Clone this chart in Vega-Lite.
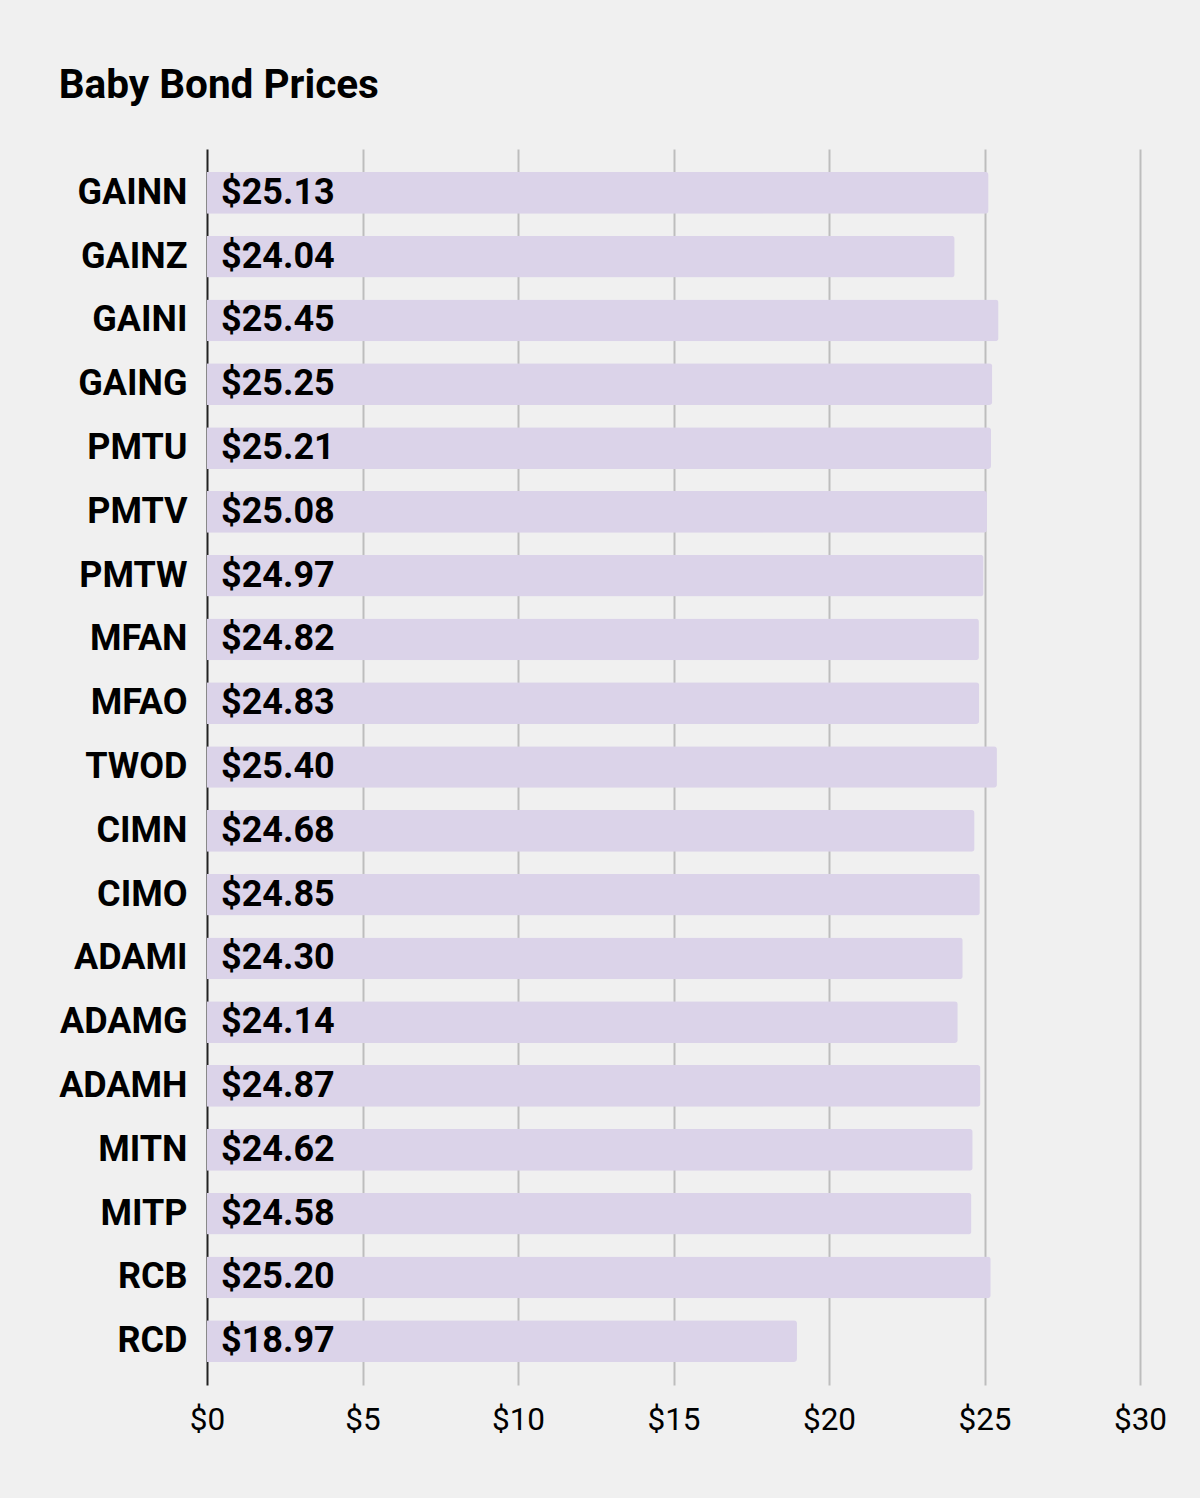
{
  "$schema": "https://vega.github.io/schema/vega-lite/v6.json",
  "autosize": "none",
  "width": 933,
  "height": 1236,
  "padding": {"left": 207, "top": 149, "right": 60, "bottom": 113},
  "background": "#f0f0f0",
  "title": {
    "text": "Baby Bond Prices",
    "anchor": "start",
    "frame": "bounds",
    "font": "Roboto",
    "fontSize": 40.5,
    "fontWeight": "bold",
    "color": "#000000",
    "baseline": "alphabetic",
    "offset": 11
  },
  "config": {
    "view": {"stroke": null},
    "font": "Roboto"
  },
  "data": {
    "values": [
      {"ticker": "GAINN", "price": 25.13},
      {"ticker": "GAINZ", "price": 24.04},
      {"ticker": "GAINI", "price": 25.45},
      {"ticker": "GAING", "price": 25.25},
      {"ticker": "PMTU", "price": 25.21},
      {"ticker": "PMTV", "price": 25.08},
      {"ticker": "PMTW", "price": 24.97},
      {"ticker": "MFAN", "price": 24.82},
      {"ticker": "MFAO", "price": 24.83},
      {"ticker": "TWOD", "price": 25.40},
      {"ticker": "CIMN", "price": 24.68},
      {"ticker": "CIMO", "price": 24.85},
      {"ticker": "ADAMI", "price": 24.30},
      {"ticker": "ADAMG", "price": 24.14},
      {"ticker": "ADAMH", "price": 24.87},
      {"ticker": "MITN", "price": 24.62},
      {"ticker": "MITP", "price": 24.58},
      {"ticker": "RCB", "price": 25.20},
      {"ticker": "RCD", "price": 18.97}
    ]
  },
  "encoding": {
    "y": {
      "field": "ticker",
      "type": "nominal",
      "sort": null,
      "scale": {"paddingInner": 0.346, "paddingOuter": 0.36},
      "axis": {
        "title": null,
        "domain": false,
        "ticks": false,
        "grid": false,
        "labelFont": "Roboto",
        "labelFontSize": 36,
        "labelFontWeight": "bold",
        "labelColor": "#000000",
        "labelPadding": 20
      }
    }
  },
  "layer": [
    {
      "mark": {"type": "bar", "color": "#dbd3e9", "cornerRadiusEnd": 3},
      "encoding": {
        "x": {
          "field": "price",
          "type": "quantitative",
          "scale": {"domain": [0, 30], "nice": false},
          "axis": {
            "title": null,
            "values": [0, 5, 10, 15, 20, 25, 30],
            "format": "$d",
            "domain": false,
            "ticks": false,
            "grid": true,
            "gridWidth": 2,
            "gridColor": {"condition": {"test": "datum.value === 0", "value": "#222222"}, "value": "#bdbdbd"},
            "labelFont": "Roboto",
            "labelFontSize": 31.5,
            "labelColor": "#000000",
            "labelFlush": false,
            "labelPadding": 19
          }
        }
      }
    },
    {
      "mark": {"type": "text", "align": "left", "baseline": "middle", "dx": 14, "font": "Roboto", "fontSize": 36, "fontWeight": "bold", "color": "#000000"},
      "encoding": {
        "x": {"datum": 0, "type": "quantitative"},
        "text": {"field": "price", "type": "quantitative", "format": "$.2f"}
      }
    }
  ]
}
